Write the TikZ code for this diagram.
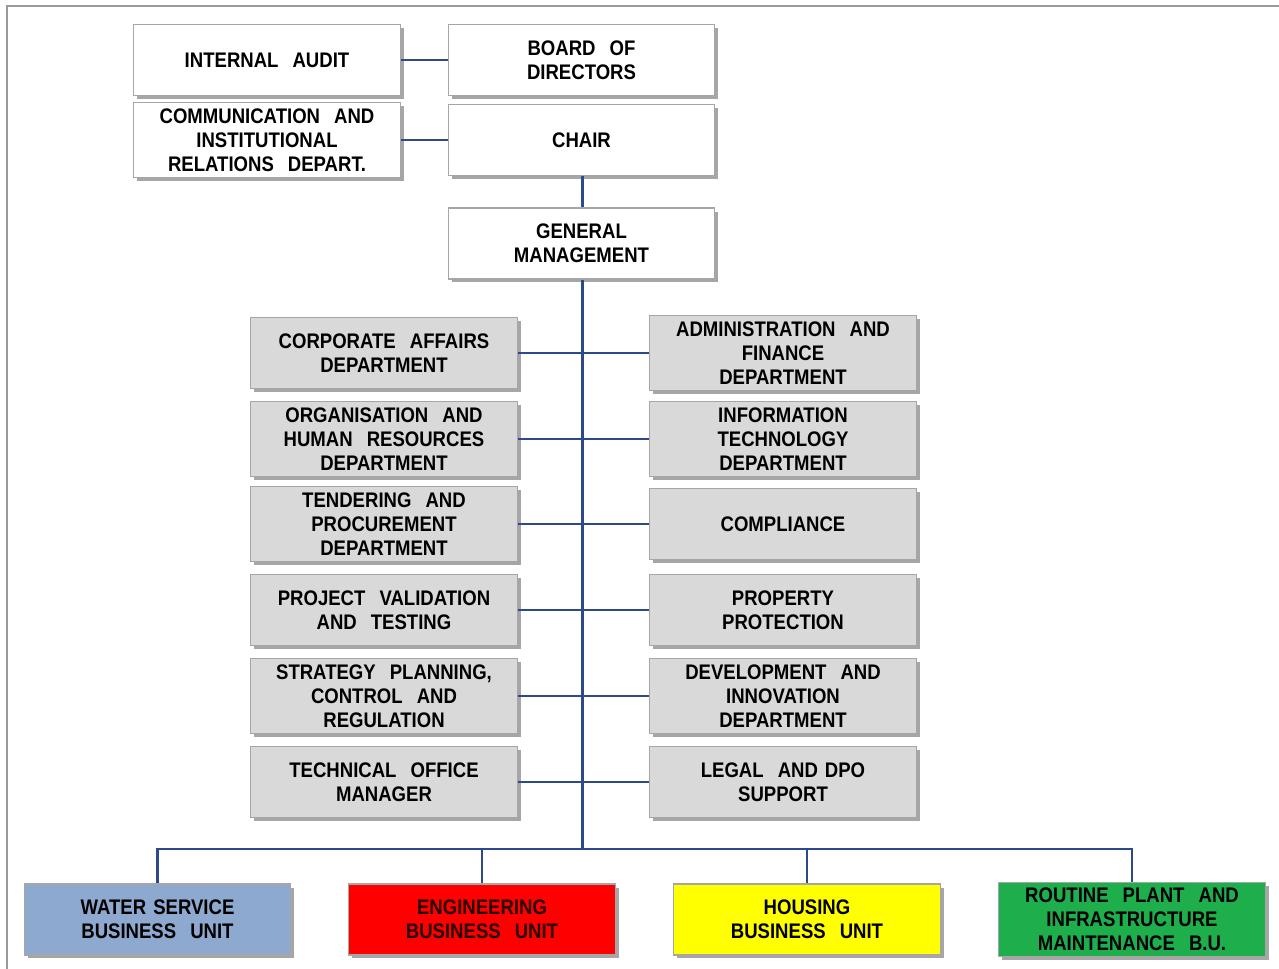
\documentclass[tikz,border=0pt]{standalone}
\usepackage{fontspec}
\setmainfont{Liberation Sans}
\newfontfamily\orgfont[FakeStretch=0.88]{Liberation Sans}
\usetikzlibrary{shadows}
\definecolor{linkblue}{HTML}{2A4A8A}
\definecolor{boxgray}{HTML}{D9D9D9}
\definecolor{edgegray}{HTML}{A6A6A6}
\definecolor{waterblue}{HTML}{8EA9D0}
\definecolor{engred}{HTML}{FF0000}
\definecolor{housyellow}{HTML}{FFFF00}
\definecolor{routgreen}{HTML}{1EAE4C}
\tikzset{
  orgbox/.style={draw=edgegray, line width=0.6pt, minimum width=5.33cm, minimum height=1.42cm,
    align=center, font=\orgfont\fontsize{12}{13.6}\selectfont\bfseries, text width=5.1cm,
    drop shadow={shadow xshift=0.07cm, shadow yshift=-0.07cm, fill=black, opacity=0.35}},
  whitebox/.style={orgbox, fill=white},
  graybox/.style={orgbox, fill=boxgray},
  link/.style={draw=linkblue, line width=1.3pt},
  frame/.style={draw=gray!80, line width=1.2pt}
}
\begin{document}
\begin{tikzpicture}[x=0.02cm, y=-0.02cm]
\useasboundingbox (0,0) rectangle (1279,969);
\draw[frame] (7,969) -- (7,6) -- (1279,6);
% top
\node[whitebox] (audit) at (267,60) {INTERNAL\ \ AUDIT};
\node[whitebox] (board) at (581.5,60) {BOARD\ \ OF\\DIRECTORS};
\node[whitebox] (comm) at (267,140) {COMMUNICATION\ \ AND\\INSTITUTIONAL\\RELATIONS\ \ DEPART.};
\node[whitebox] (chair) at (581.5,140) {CHAIR};
\node[whitebox] (gm) at (581.5,243.5) {GENERAL\\MANAGEMENT};
% departments
\node[graybox] (corp) at (384,353) {CORPORATE\ \ AFFAIRS\\DEPARTMENT};
\node[graybox] (admin) at (783,353) {ADMINISTRATION\ \ AND\\FINANCE\\DEPARTMENT};
\node[graybox] (org) at (384,439) {ORGANISATION\ \ AND\\HUMAN\ \ RESOURCES\\DEPARTMENT};
\node[graybox] (it) at (783,439) {INFORMATION\\TECHNOLOGY\\DEPARTMENT};
\node[graybox] (tend) at (384,524) {TENDERING\ \ AND\\PROCUREMENT\\DEPARTMENT};
\node[graybox] (comp) at (783,524) {COMPLIANCE};
\node[graybox] (proj) at (384,610) {PROJECT\ \ VALIDATION\\AND\ \ TESTING};
\node[graybox] (prop) at (783,610) {PROPERTY\\PROTECTION};
\node[graybox] (strat) at (384,696) {STRATEGY\ \ PLANNING,\\CONTROL\ \ AND\\REGULATION};
\node[graybox] (dev) at (783,696) {DEVELOPMENT\ \ AND\\INNOVATION\\DEPARTMENT};
\node[graybox] (tech) at (384,782) {TECHNICAL\ \ OFFICE\\MANAGER};
\node[graybox] (legal) at (783,782) {LEGAL\ \ AND\ DPO\\SUPPORT};
% business units
\node[orgbox, fill=waterblue] (water) at (157.5,919.5) {WATER\ SERVICE\\BUSINESS\ \ UNIT};
\node[orgbox, fill=engred, text=black!85!red] (eng) at (482,919.5) {ENGINEERING\\BUSINESS\ \ UNIT};
\node[orgbox, fill=housyellow] (hous) at (807,919.5) {HOUSING\\BUSINESS\ \ UNIT};
\node[orgbox, fill=routgreen] (rout) at (1132,919.5) {ROUTINE\ \ PLANT\ \ AND\\INFRASTRUCTURE\\MAINTENANCE\ \ B.U.};
\coordinate (busjoin) at (582.5,849);
% connectors
\draw[link] (audit.east) -- (board.west);
\draw[link] (comm.east) -- (chair.west);
\draw[link] (chair.south -| busjoin) -- (gm.north -| busjoin);
\draw[link] (gm.south -| busjoin) -- (busjoin);
\draw[link] (corp.east) -- (admin.west);
\draw[link] (org.east) -- (it.west);
\draw[link] (tend.east) -- (comp.west);
\draw[link] (proj.east) -- (prop.west);
\draw[link] (strat.east) -- (dev.west);
\draw[link] (tech.east) -- (legal.west);
\draw[link] (water.north) |- (busjoin) -| (rout.north);
\draw[link] (eng.north) -- (eng.north |- busjoin);
\draw[link] (hous.north) -- (hous.north |- busjoin);
\end{tikzpicture}
\end{document}
